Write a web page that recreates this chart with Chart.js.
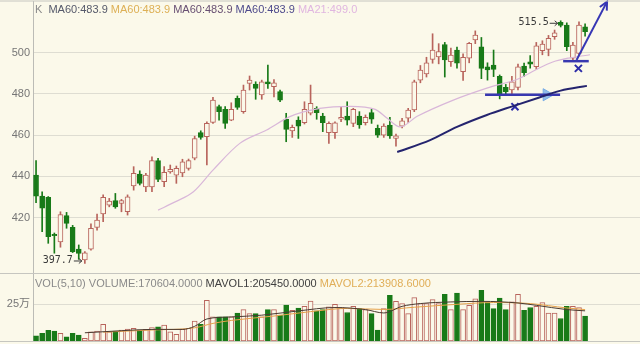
<!DOCTYPE html>
<html>
<head>
<meta charset="utf-8">
<script src="https://cdn.jsdelivr.net/npm/chart.js@4.4.1/dist/chart.umd.min.js"></script>
<style>
html, body { margin: 0; padding: 0; background: #fbf9ea; }
#wrap { position: relative; width: 640px; height: 344px; overflow: hidden; background: #fbf9ea; }
#wrap canvas { position: absolute; left: 0; }
#kline { top: 0; }
#vol { top: 274px; }
</style>
</head>
<body>
<div id="wrap">
  <canvas id="kline" width="640" height="274"></canvas>
  <canvas id="vol" width="640" height="70"></canvas>
</div>
<script>
// ---- daily candles ----
const openP = [440.6, 430.4, 429.8, 411.8, 408.2, 420.9, 415.2, 404.7, 399.4, 404.7,
  415.2, 421.7, 426.0, 428.2, 426.9, 422.8, 435.3, 441.1, 434.9, 434.9,
  447.6, 437.4, 442.2, 440.6, 441.7, 443.9, 448.8, 461.2, 459.2, 466.2,
  473.8, 472.5, 467.3, 477.9, 471.4, 485.1, 484.8, 479.5, 485.9, 483.5,
  481.1, 467.7, 462.1, 467.3, 466.0, 470.6, 473.0, 469.3, 461.2, 461.2,
  467.7, 469.3, 465.7, 469.3, 466.0, 470.9, 463.3, 460.0, 464.9, 458.4,
  464.4, 468.2, 472.2, 486.7, 489.7, 496.8, 498.0, 504.0, 495.6, 501.3,
  490.8, 497.3, 506.2, 502.9, 493.2, 494.0, 488.5, 483.2, 481.9, 483.2,
  493.5, 495.6, 493.2, 501.0, 501.6, 507.8, 514.8, 513.4, 497.3, 499.7, 512.6];
const highP = [447.6, 432.5, 430.2, 412.5, 422.8, 422.5, 416.2, 406.7, 403.5, 417.0,
  421.7, 431.0, 429.3, 431.7, 428.8, 431.0, 444.7, 442.7, 441.5, 449.5,
  448.7, 444.7, 445.5, 445.0, 448.3, 448.4, 459.5, 462.1, 466.5, 478.3,
  474.6, 473.8, 475.7, 479.0, 484.3, 488.7, 485.9, 486.7, 494.0, 487.0,
  481.9, 470.6, 464.9, 468.9, 476.2, 484.3, 473.8, 470.6, 466.5, 466.5,
  473.8, 476.2, 473.0, 471.4, 469.8, 472.5, 464.9, 465.5, 468.6, 460.5,
  468.2, 473.0, 486.7, 493.8, 497.8, 509.2, 504.4, 505.0, 502.2, 502.7,
  499.4, 505.0, 510.6, 507.4, 495.1, 501.3, 489.2, 484.6, 488.5, 494.5,
  495.0, 498.6, 505.0, 505.8, 508.4, 511.0, 515.5, 514.5, 505.0, 515.0, 514.0];
const lowP = [427.2, 413.1, 407.5, 402.7, 405.6, 414.8, 403.0, 399.7, 397.7, 404.2,
  413.9, 418.0, 425.2, 424.5, 422.8, 421.2, 433.3, 435.8, 432.5, 432.5,
  437.4, 435.0, 441.5, 436.6, 439.8, 443.0, 448.0, 458.0, 445.5, 465.7,
  467.3, 463.3, 467.0, 472.5, 470.6, 481.9, 477.4, 477.4, 482.7, 478.6,
  476.2, 456.8, 458.9, 458.4, 465.4, 469.8, 467.7, 461.7, 456.0, 458.4,
  466.5, 464.9, 464.1, 463.3, 464.9, 465.7, 458.9, 458.9, 458.4, 454.7,
  463.5, 466.2, 471.4, 485.4, 488.2, 494.9, 494.6, 488.2, 493.3, 492.5,
  486.6, 495.1, 504.4, 487.4, 486.7, 488.4, 477.6, 479.5, 479.5, 482.0,
  488.5, 492.5, 491.9, 499.0, 498.5, 506.5, 512.5, 501.0, 495.6, 498.5, 508.0];
const closeP = [430.4, 424.5, 410.7, 411.2, 421.4, 417.2, 403.4, 402.6, 402.9, 414.8,
  418.8, 429.8, 428.0, 425.2, 428.2, 430.1, 441.5, 436.6, 440.6, 447.6,
  438.5, 441.9, 443.4, 443.9, 447.1, 447.6, 458.3, 458.9, 465.7, 477.0,
  471.4, 465.7, 472.5, 473.5, 481.9, 486.7, 482.7, 485.9, 484.8, 485.4,
  477.0, 462.8, 463.8, 464.4, 472.5, 475.4, 470.9, 466.0, 465.7, 466.0,
  468.6, 467.3, 472.5, 464.9, 468.6, 467.7, 460.0, 464.4, 459.6, 459.6,
  467.0, 472.2, 485.9, 491.6, 495.1, 501.3, 500.5, 496.5, 498.9, 494.9,
  497.8, 504.6, 508.6, 492.4, 491.6, 491.9, 479.5, 481.1, 485.9, 493.2,
  490.3, 494.5, 503.3, 504.2, 507.0, 509.7, 513.2, 502.9, 503.7, 513.4, 510.2];
const volume = [36000, 52000, 72000, 68000, 52000, 29000, 52000, 41000, 18000, 63000,
  68000, 113000, 63000, 68000, 74000, 81000, 86000, 74000, 79000, 92000,
  97000, 108000, 63000, 45000, 79000, 86000, 135000, 113000, 277000, 164000,
  164000, 164000, 164000, 191000, 214000, 187000, 187000, 164000, 214000, 214000,
  176000, 245000, 209000, 225000, 236000, 272000, 205000, 214000, 232000, 250000,
  228000, 194000, 236000, 221000, 214000, 187000, 74000, 221000, 311000, 270000,
  255000, 187000, 295000, 255000, 255000, 282000, 255000, 318000, 214000, 327000,
  214000, 243000, 288000, 345000, 266000, 221000, 293000, 214000, 266000, 318000,
  209000, 228000, 236000, 261000, 191000, 191000, 153000, 236000, 236000, 228000, 170604];

// ---- average lines, read at a few points along each curve (x = day number) ----
const ma21X = [21, 23.8, 26.8, 30, 34.4, 38.8, 42.6, 47.5, 52.5, 56.6, 58.5, 60.7, 63.4, 69.4, 74.9, 80.3, 83.1, 85.7, 88.5, 91.8];
const ma21Y = [423.6, 427.6, 432.5, 443.0, 456.0, 462.5, 469.0, 473.0, 474.0, 472.5, 468.3, 464.0, 469.0, 477.0, 482.8, 487.6, 492.0, 495.5, 497.5, 499.0];
const ma60X = [60.2, 65.6, 70, 74.9, 79.2, 83.5, 87, 91.3];
const ma60Y = [451.8, 457.6, 464.0, 469.8, 474.1, 478.3, 481.6, 483.9];
const mavol1X = [9, 15, 20, 25, 27, 29, 33, 38, 44, 50, 55, 58, 61, 64, 69, 74, 80, 83, 88, 91];
const mavol1Y = [56000, 70000, 79000, 79000, 100000, 150000, 164000, 176000, 205000, 228000,
  214000, 191000, 236000, 255000, 266000, 270000, 259000, 243000, 214000, 205450];
const mavol2X = [12, 20, 27, 30, 33, 40, 46, 52, 58, 63, 70, 76, 82, 88, 91];
const mavol2Y = [60000, 75000, 90000, 120000, 140000, 170000, 200000, 222000, 215000, 230000,
  250000, 262000, 255000, 225000, 213909];

// ---- hand drawn marks (day, price) ----
const support1X = [74.6, 86.9];
const support1Y = [479.6, 479.6];
const support2X = [87.4, 91.6];
const support2Y = [495.9, 495.9];
const crossX = [79.5, 89.9];
const crossY = [473.8, 492.4];
const arrowX = [89.6, 94.6];
const arrowY = [496.5, 524.8];
const pointerX = [84.7];
const pointerY = [479.6];

// ---- axis ticks and header texts ----
const priceTicks = [420, 440, 460, 480, 500];
const volTicks = [250000];
const volTickText = ['25万'];
const kHeader = ['K ', 'MA60:483.9', 'MA60:483.9', 'MA60:483.9', 'MA60:483.9', 'MA21:499.0'];
const volHeader = ['VOL(5,10) VOLUME:170604.0000', 'MAVOL1:205450.0000', 'MAVOL2:213908.6000'];

// ---- styles ----
const BG = '#fbf9ea';
const UP = '#b8645c';
const DOWN = '#187a18';
const FONT = '"Liberation Sans", Arial, "Noto Sans CJK SC", sans-serif';
const kHeaderColors = ['#8a8a8a', '#55596a', '#ddb056', '#674f72', '#4e4a8c', '#e0b6e0'];
const volHeaderColors = ['#8a8a8a', '#404040', '#e0ae58'];

const days = openP.map((_, i) => i + 1);
const isUp = days.map((_, i) => closeP[i] >= openP[i]);
const pts = (xs, ys) => xs.map((x, i) => ({ x: x, y: ys[i] }));

// header text + frame lines
function panelDecor(id, texts, colors, lines) {
    return {
        id: id,
        afterDraw(chart) {
            const ctx = chart.ctx;
            ctx.save();
            ctx.strokeStyle = '#c6c6c0';
            ctx.lineWidth = 1;
            lines(chart).forEach(y => {
                ctx.beginPath();
                ctx.moveTo(0, y);
                ctx.lineTo(chart.width, y);
                ctx.stroke();
            });
            ctx.font = '11px ' + FONT;
            ctx.textBaseline = 'middle';
            let x = 35;
            texts.forEach((t, i) => {
                ctx.fillStyle = colors[i];
                ctx.fillText(t, x, 10);
                x += ctx.measureText(t + ' ').width;
            });
            ctx.restore();
        }
    };
}

// arrow heads at the end of marked line datasets
const arrowHeads = {
    id: 'arrowHeads',
    afterDatasetsDraw(chart) {
        const ctx = chart.ctx;
        chart.data.datasets.forEach((ds, i) => {
            if (!ds.arrowHead) return;
            const pts = chart.getDatasetMeta(i).data;
            const a = pts[pts.length - 2], b = pts[pts.length - 1];
            const ang = Math.atan2(b.y - a.y, b.x - a.x);
            ctx.save();
            ctx.strokeStyle = ds.borderColor;
            ctx.lineWidth = 2;
            ctx.beginPath();
            ctx.moveTo(b.x - 9 * Math.cos(ang - 0.45), b.y - 9 * Math.sin(ang - 0.45));
            ctx.lineTo(b.x, b.y);
            ctx.lineTo(b.x - 9 * Math.cos(ang + 0.45), b.y - 9 * Math.sin(ang + 0.45));
            ctx.stroke();
            ctx.restore();
        });
    }
};

// lowest low and highest high with a small pointer
const extremes = {
    id: 'extremes',
    afterDatasetsDraw(chart) {
        const { ctx, scales: { x, y } } = chart;
        const lo = Math.min(...lowP), hi = Math.max(...highP);
        const marks = [
            { day: lowP.indexOf(lo) + 1, value: lo, dy: -3 },
            { day: highP.indexOf(hi) + 1, value: hi, dy: 2 }
        ];
        ctx.save();
        ctx.font = '10px "DejaVu Sans Mono", monospace';
        ctx.fillStyle = '#3a3a3a';
        ctx.strokeStyle = '#3a3a3a';
        ctx.lineWidth = 1;
        ctx.textAlign = 'right';
        ctx.textBaseline = 'middle';
        marks.forEach(m => {
            const px = x.getPixelForValue(m.day);
            const py = y.getPixelForValue(m.value) + m.dy;
            ctx.fillText(m.value.toFixed(1), px - 12, py);
            ctx.beginPath();
            ctx.moveTo(px - 11, py + 0.5);
            ctx.lineTo(px - 3, py + 0.5);
            ctx.moveTo(px - 6, py - 2);
            ctx.lineTo(px - 3, py + 0.5);
            ctx.lineTo(px - 6, py + 3);
            ctx.stroke();
        });
        ctx.restore();
    }
};

const xAxis = { type: 'linear', min: 0.5, max: 100, offset: false, display: false };

function yAxis(min, max, ticks, labels) {
    return {
        type: 'linear',
        position: 'left',
        min: min,
        max: max,
        afterFit(s) {
            s.width = 33;
            // keep the plot area flush with the panel edges
            s.paddingTop = 0;
            s.paddingBottom = 0;
        },
        afterBuildTicks(s) { s.ticks = ticks.map(v => ({ value: v })); },
        ticks: {
            padding: 3,
            color: '#767676',
            font: { family: FONT, size: 11 },
            callback: (v, i) => labels ? labels[i] : v
        },
        grid: { color: '#deddd2', drawTicks: false },
        border: { display: true, color: '#bcbcb6' }
    };
}

// -------------------------------
// PRICE PANEL
// -------------------------------
new Chart(document.getElementById('kline'), {
    type: 'bar',
    data: {
        datasets: [
            {
                label: 'body',
                data: days.map((d, i) => ({ x: d, y: [openP[i], closeP[i]] })),
                backgroundColor: isUp.map(u => u ? BG : DOWN),
                borderColor: isUp.map(u => u ? UP : DOWN),
                borderWidth: 1,
                borderSkipped: false,
                barThickness: 5,
                minBarLength: 1,
                grouped: false,
                order: 2
            },
            {
                label: 'wick',
                data: days.map((d, i) => ({ x: d, y: [lowP[i], highP[i]] })),
                backgroundColor: isUp.map(u => u ? UP : DOWN),
                borderWidth: 0,
                barThickness: 1,
                grouped: false,
                order: 3
            },
            {
                type: 'line', label: 'MA21',
                data: pts(ma21X, ma21Y),
                borderColor: '#d9b7d9', borderWidth: 1.2,
                pointRadius: 0, cubicInterpolationMode: 'monotone', order: 1
            },
            {
                type: 'line', label: 'MA60',
                data: pts(ma60X, ma60Y),
                borderColor: '#24246e', borderWidth: 2,
                pointRadius: 0, cubicInterpolationMode: 'monotone', order: 0
            },
            {
                type: 'line', label: 'support1',
                data: pts(support1X, support1Y),
                borderColor: '#3838b0', borderWidth: 2.5, pointRadius: 0, order: 0
            },
            {
                type: 'line', label: 'support2',
                data: pts(support2X, support2Y),
                borderColor: '#3838b0', borderWidth: 2.5, pointRadius: 0, order: 0
            },
            {
                type: 'line', label: 'cross',
                data: pts(crossX, crossY),
                showLine: false, pointStyle: 'crossRot', pointRadius: 5,
                pointBorderWidth: 2, borderColor: '#2c2ca8', order: 0
            },
            {
                type: 'line', label: 'pointer',
                data: pts(pointerX, pointerY),
                showLine: false, pointStyle: 'triangle', rotation: 90, pointRadius: 7,
                backgroundColor: 'rgba(110,165,230,0.75)', borderColor: 'rgba(110,165,230,0.9)',
                pointBorderWidth: 1, order: 0
            },
            {
                type: 'line', label: 'arrow', arrowHead: true,
                data: pts(arrowX, arrowY),
                borderColor: '#3636b4', borderWidth: 2, pointRadius: 0, order: 0
            }
        ]
    },
    options: {
        responsive: false,
        animation: false,
        events: [],
        layout: { autoPadding: false, padding: { top: 1, bottom: 0, left: 0, right: 0 } },
        plugins: { legend: { display: false }, tooltip: { enabled: false } },
        scales: { x: xAxis, y: yAxis(392.6, 525.1, priceTicks, null) }
    },
    plugins: [
        panelDecor('kDecor', kHeader, kHeaderColors, c => [1, c.chartArea.bottom - 0.5]),
        arrowHeads,
        extremes
    ]
});

// -------------------------------
// VOLUME PANEL
// -------------------------------
new Chart(document.getElementById('vol'), {
    type: 'bar',
    data: {
        datasets: [
            {
                type: 'line', label: 'MAVOL1',
                data: pts(mavol1X, mavol1Y),
                borderColor: '#4a3a30', borderWidth: 1,
                pointRadius: 0, cubicInterpolationMode: 'monotone', order: 0
            },
            {
                type: 'line', label: 'MAVOL2',
                data: pts(mavol2X, mavol2Y),
                borderColor: '#e6a24a', borderWidth: 1,
                pointRadius: 0, cubicInterpolationMode: 'monotone', order: 1
            },
            {
                label: 'VOLUME',
                data: days.map((d, i) => ({ x: d, y: volume[i] })),
                backgroundColor: isUp.map(u => u ? BG : DOWN),
                borderColor: isUp.map(u => u ? UP : DOWN),
                borderWidth: 1,
                borderSkipped: false,
                barThickness: 5,
                order: 2
            }
        ]
    },
    options: {
        responsive: false,
        animation: false,
        events: [],
        layout: { autoPadding: false, padding: { top: 0, bottom: 3, left: 0, right: 0 } },
        plugins: { legend: { display: false }, tooltip: { enabled: false } },
        scales: { x: xAxis, y: yAxis(0, 456400, volTicks, volTickText) }
    },
    plugins: [
        panelDecor('vDecor', volHeader, volHeaderColors, c => [c.chartArea.bottom + 0.5])
    ]
});
</script>
</body>
</html>
